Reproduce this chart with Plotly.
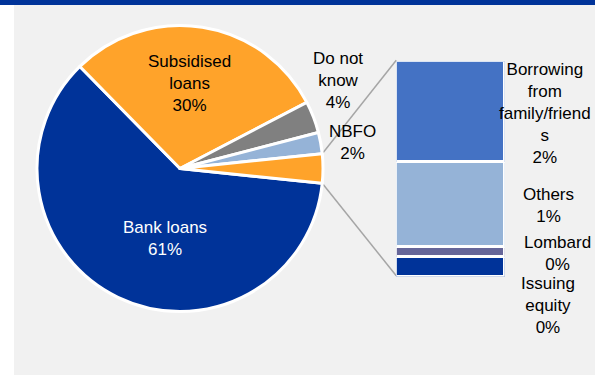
import math
import plotly.graph_objects as go

# Main breakdown of funding sources (share of respondents, %)
main_labels = ["Bank loans", "Subsidised loans", "Do not know", "NBFO"]
main_values = [61.0, 29.7, 3.6, 2.4]

# "Other" sources, split out into the stacked column
other_labels = ["Borrowing from family/friends", "Others", "Lombard", "Issuing equity"]
other_text = ["Borrowing<br>from<br>family/friend<br>s", "Others", "Lombard", "Issuing<br>equity"]
other_values = [1.55, 1.30, 0.15, 0.30]

main_colors = ["#003399", "#FFA32A", "#808080", "#95B3D7"]
other_slice_color = "#FFA32A"
other_colors = ["#4472C4", "#95B3D7", "#666699", "#003399"]

W, H = 595, 375
total = sum(main_values) + sum(other_values)
other_total = sum(other_values)


def pct(v):
    return f"{v / total * 100:.0f}%"


# Pie geometry (pixels)
cx, cy, r = 180.0, 168.5, 143.0
other_deg = other_total / total * 360.0
rotation = 90.0 + other_deg / 2.0  # centre the "Other" slice on 3 o'clock

pie_dom_x = [(cx - r) / W, (cx + r) / W]
pie_dom_y = [(H - cy - r) / H, (H - cy + r) / H]

# Stacked column placement (pixels)
col_x0, col_x1 = 396.25, 504.75
col_top, col_bot = 61.25, 276.75
col_dom_x = [col_x0 / W, col_x1 / W]
col_dom_y = [(H - col_bot) / H, (H - col_top) / H]

fig = go.Figure()

fig.add_trace(go.Pie(
    labels=main_labels + ["Other"],
    values=main_values + [other_total],
    sort=False,
    direction="clockwise",
    rotation=rotation,
    marker=dict(colors=main_colors + [other_slice_color],
                line=dict(color="white", width=3)),
    textinfo="none",
    hoverinfo="label+percent",
    domain=dict(x=pie_dom_x, y=pie_dom_y),
    showlegend=False,
))

# Stacked column, bottom to top: Issuing equity, Lombard, Others, Borrowing
for name, val, col in reversed(list(zip(other_labels, other_values, other_colors))):
    fig.add_trace(go.Bar(
        x=[""], y=[val], name=name,
        marker=dict(color=col, line=dict(color="white", width=3.5)),
        showlegend=False, hoverinfo="name+y",
    ))


def px_to_paper(x, y):
    return x / W, (H - y) / H


def pie_edge(angle_deg):
    a = math.radians(angle_deg)
    return cx + r * math.sin(a), cy - r * math.cos(a)


shapes = [
    # grey panel and top band
    dict(type="rect", xref="paper", yref="paper", x0=14 / W, x1=1, y0=0, y1=(H - 5) / H,
         fillcolor="#F1F1F1", line=dict(width=0), layer="below"),
    dict(type="rect", xref="paper", yref="paper", x0=0, x1=1, y0=(H - 5) / H, y1=1,
         fillcolor="#003399", line=dict(width=0), layer="below"),
]

# connector lines from the "Other" slice to the column
up_x, up_y = pie_edge(rotation - other_deg)
lo_x, lo_y = pie_edge(rotation)
for (px, py), (qx, qy) in [((up_x, up_y), (col_x0, col_top - 1)),
                           ((lo_x, lo_y), (col_x0, col_bot - 1))]:
    x0, y0 = px_to_paper(px, py)
    x1, y1 = px_to_paper(qx, qy)
    shapes.append(dict(type="line", xref="paper", yref="paper", x0=x0, y0=y0, x1=x1, y1=y1,
                       line=dict(color="#A6A6A6", width=1.5), layer="below"))

font = dict(family="Liberation Sans, Arial, sans-serif", size=17, color="#000000")
label_pos = {
    "Bank loans": (165, 238, "#FFFFFF", "Bank loans"),
    "Subsidised loans": (190, 83, "#000000", "Subsidised<br>loans"),
    "Do not know": (338, 80, "#000000", "Do not<br>know"),
    "NBFO": (352, 142.5, "#000000", "NBFO"),
}
other_pos = [(545, 113.5), (548, 205.5), (557, 253.5), (548, 305)]

annotations = []
for lab, val in zip(main_labels, main_values):
    x, y, color, txt = label_pos[lab]
    ax, ay = px_to_paper(x, y)
    annotations.append(dict(x=ax, y=ay, xref="paper", yref="paper", showarrow=False,
                            text=f"{txt}<br>{pct(val)}", align="center",
                            xanchor="center", yanchor="middle",
                            font=dict(font, color=color)))
for txt, val, (x, y) in zip(other_text, other_values, other_pos):
    ax, ay = px_to_paper(x, y)
    annotations.append(dict(x=ax, y=ay, xref="paper", yref="paper", showarrow=False,
                            text=f"{txt}<br>{pct(val)}", align="center",
                            xanchor="center", yanchor="middle", font=font))

fig.update_layout(
    width=W, height=H,
    margin=dict(l=0, r=0, t=0, b=0),
    paper_bgcolor="white",
    plot_bgcolor="rgba(0,0,0,0)",
    barmode="stack",
    bargap=0,
    xaxis=dict(domain=col_dom_x, visible=False, fixedrange=True),
    yaxis=dict(domain=col_dom_y, range=[0, other_total], visible=False, fixedrange=True),
    shapes=shapes,
    annotations=annotations,
)

fig.write_html("out.html")
